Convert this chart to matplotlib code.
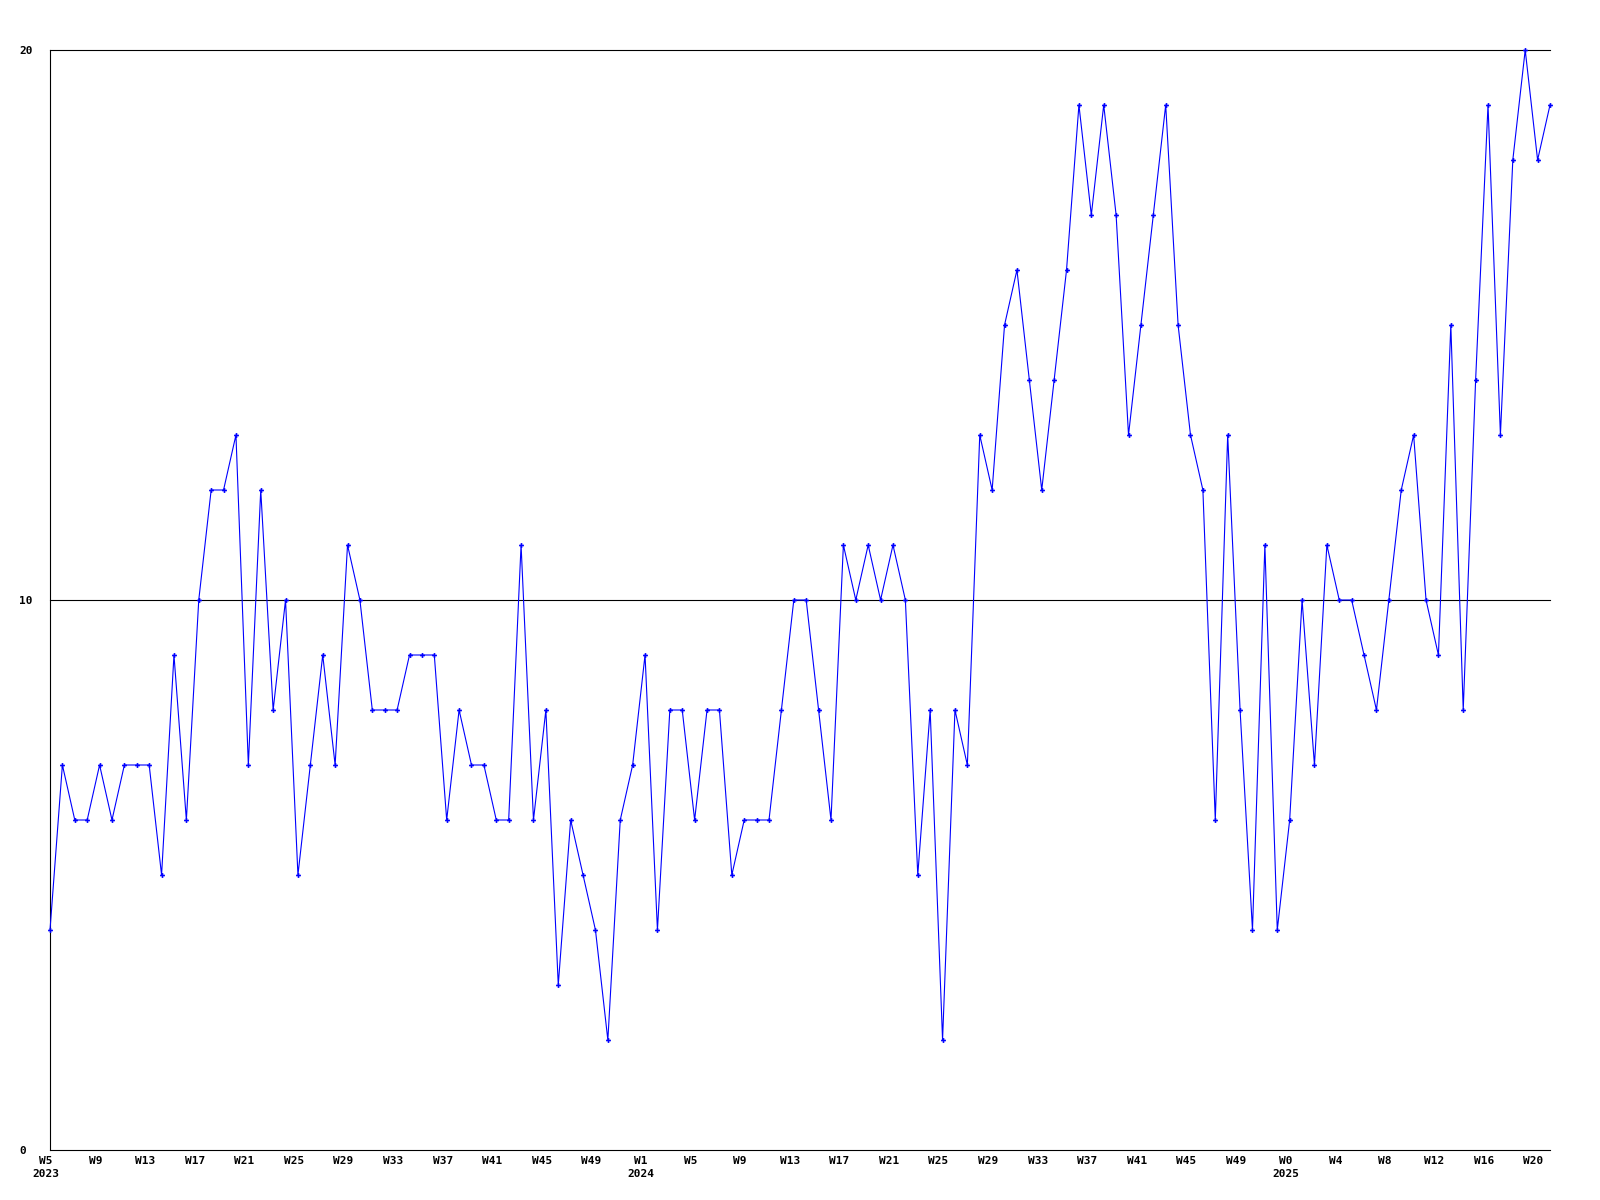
import matplotlib
matplotlib.use("Agg")
import matplotlib.pyplot as plt
import matplotlib.transforms as mtransforms

# ---- DATA ----
# weekly values, 2023 W5 .. 2025 W21
values = [
    4, 7, 6, 6, 7, 6, 7, 7, 7, 5,
    9, 6, 10, 12, 12, 13, 7, 12, 8, 10,
    5, 7, 9, 7, 11, 10, 8, 8, 8, 9,
    9, 9, 6, 8, 7, 7, 6, 6, 11, 6,
    8, 3, 6, 5, 4, 2, 6, 7, 9, 4,
    8, 8, 6, 8, 8, 5, 6, 6, 6, 8,
    10, 10, 8, 6, 11, 10, 11, 10, 11, 10,
    5, 8, 2, 8, 7, 13, 12, 15, 16, 14,
    12, 14, 16, 19, 17, 19, 17, 13, 15, 17,
    19, 15, 13, 12, 6, 13, 8, 4, 11, 4,
    6, 10, 7, 11, 10, 10, 9, 8, 10, 12,
    13, 10, 9, 15, 8, 14, 19, 13, 18, 20,
    18, 19,
]
week_labels = [
    "W5\n2023", "W9", "W13", "W17", "W21", "W25", "W29", "W33", "W37", "W41", "W45", "W49",
    "W1\n2024", "W5", "W9", "W13", "W17", "W21", "W25", "W29", "W33", "W37", "W41", "W45", "W49",
    "W0\n2025", "W4", "W8", "W12", "W16", "W20",
]
y_ticks = [0, 10, 20]

x = list(range(len(values)))

FONT = dict(family="DejaVu Sans Mono", weight="bold", size=8)

fig = plt.figure(figsize=(16, 12), dpi=100)
ax = fig.add_axes([50 / 1600, 50 / 1200, 1500 / 1600, 1100 / 1200])

# grid lines at 10 and 20
for yv in y_ticks[1:]:
    ax.axhline(yv, color="black", linewidth=0.8, clip_on=False, zorder=1)

ax.plot(x, values, color="#0000ff", linewidth=0.8, marker="P",
        markersize=3.5, markeredgewidth=0, zorder=3, clip_on=False)

ax.set_xlim(0, len(values) - 1)
ax.set_ylim(0, 20)

ax.spines["top"].set_visible(False)
ax.spines["right"].set_visible(False)
for s in ("left", "bottom"):
    ax.spines[s].set_linewidth(0.8)
    ax.spines[s].set_color("black")

ax.set_xticks(x[::4])
ax.set_xticklabels(week_labels, fontdict=FONT, linespacing=1.4, va="top")
ax.set_yticks(y_ticks)
ax.set_yticklabels([str(v) for v in y_ticks], fontdict=FONT)
ax.tick_params(axis="x", length=0, pad=4)
ax.tick_params(axis="y", length=0, pad=22)
for lab in ax.get_yticklabels():
    lab.set_ha("left")

# x labels sit a few pixels left of their week
shift = mtransforms.ScaledTranslation(-4 / 100, 0, fig.dpi_scale_trans)
for lab in ax.get_xticklabels():
    lab.set_transform(lab.get_transform() + shift)

fig.savefig("out.png", dpi=100, facecolor="white")
